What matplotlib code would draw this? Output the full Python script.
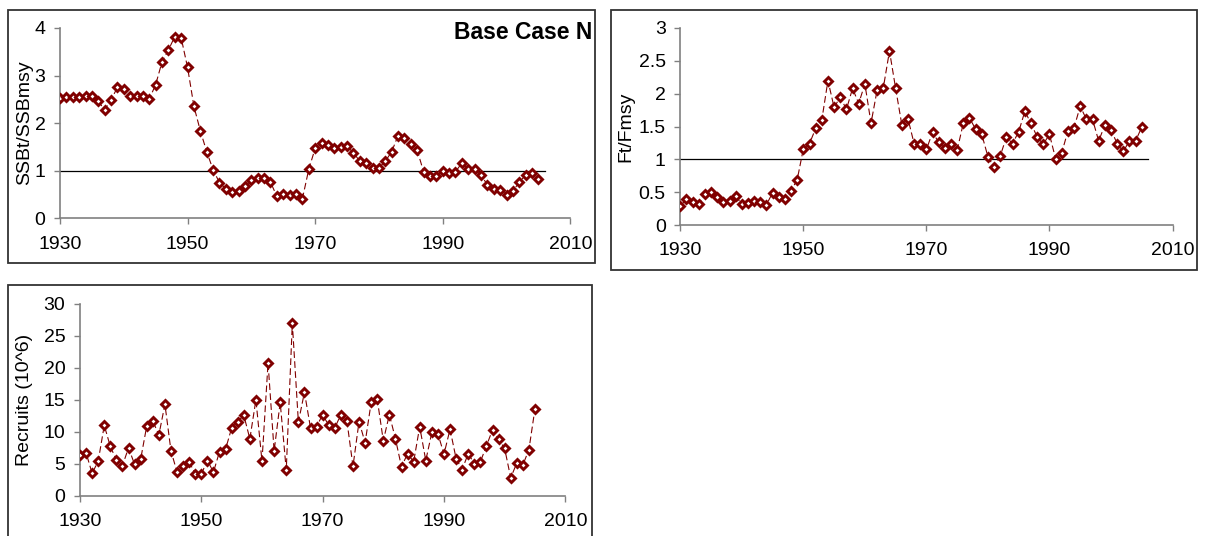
import matplotlib
matplotlib.use("Agg")
import matplotlib.pyplot as plt
from matplotlib.patches import Rectangle
import numpy as np

plt.rcParams['font.family'] = ['Liberation Sans', 'DejaVu Sans']

years = np.arange(1930, 2006)

ssb_ratio = [2.52, 2.55, 2.54, 2.56, 2.58, 2.58, 2.46, 2.28, 2.49, 2.75,
             2.71, 2.58, 2.58, 2.58, 2.51, 2.81, 3.29, 3.54, 3.82, 3.79,
             3.17, 2.35, 1.84, 1.40, 1.02, 0.75, 0.62, 0.55, 0.58, 0.67,
             0.80, 0.85, 0.85, 0.76, 0.46, 0.51, 0.49, 0.51, 0.41, 1.03,
             1.47, 1.59, 1.55, 1.48, 1.49, 1.51, 1.38, 1.20, 1.17, 1.06,
             1.06, 1.20, 1.40, 1.74, 1.68, 1.56, 1.43, 0.98, 0.88, 0.88,
             1.00, 0.95, 0.98, 1.16, 1.04, 1.04, 0.90, 0.71, 0.61, 0.60,
             0.50, 0.57, 0.76, 0.91, 0.96, 0.82]

f_ratio = [0.29, 0.39, 0.35, 0.32, 0.47, 0.51, 0.43, 0.35, 0.37, 0.44,
           0.32, 0.34, 0.37, 0.35, 0.31, 0.49, 0.43, 0.40, 0.52, 0.69,
           1.16, 1.24, 1.47, 1.60, 2.20, 1.79, 1.95, 1.76, 2.08, 1.85,
           2.15, 1.55, 2.06, 2.09, 2.65, 2.08, 1.53, 1.62, 1.24, 1.23,
           1.15, 1.41, 1.26, 1.17, 1.24, 1.14, 1.55, 1.63, 1.46, 1.38,
           1.04, 0.88, 1.05, 1.34, 1.24, 1.42, 1.73, 1.55, 1.34, 1.23,
           1.38, 1.01, 1.10, 1.43, 1.48, 1.81, 1.61, 1.61, 1.28, 1.52,
           1.45, 1.24, 1.12, 1.28, 1.28, 1.49]

recruits = [6.3, 6.7, 3.5, 5.4, 11.0, 7.7, 5.6, 4.7, 7.5, 4.9,
            5.7, 10.9, 11.7, 9.5, 14.3, 7.0, 3.7, 4.6, 5.3, 3.4,
            3.4, 5.5, 3.7, 6.9, 7.3, 10.6, 11.6, 12.6, 8.9, 15.0,
            5.4, 20.8, 7.0, 14.6, 4.0, 27.0, 11.5, 16.2, 10.6, 10.8,
            12.7, 11.0, 10.6, 12.7, 11.7, 4.6, 11.6, 8.3, 14.6, 15.1,
            8.6, 12.7, 8.9, 4.5, 6.6, 5.3, 10.8, 5.5, 9.9, 9.7,
            6.5, 10.4, 5.8, 4.1, 6.6, 5.0, 5.3, 7.8, 10.3, 8.8,
            7.4, 2.8, 5.1, 4.8, 7.2, 13.6]

x_ticks = [1930, 1950, 1970, 1990, 2010]
red = '#800000'
W, H = 1205, 536

fig = plt.figure(figsize=(W / 100, H / 100), dpi=100)


def px_axes(left, right, top, bottom):
    return fig.add_axes([left / W, 1 - bottom / H, (right - left) / W, (bottom - top) / H])


def chart_box(x0, y0, x1, y1):
    fig.add_artist(Rectangle((x0 / W, 1 - y1 / H), (x1 - x0) / W, (y1 - y0) / H,
                             transform=fig.transFigure, fill=False,
                             edgecolor='#333333', linewidth=1.3))


def series_panel(ax, values, ymax, ystep, ylabel, label_x, ref_line=True):
    ax.plot(years, values, color=red, linestyle=(0, (6, 3)), linewidth=0.8,
            marker='D', markersize=4.0, markerfacecolor='white',
            markeredgecolor=red, markeredgewidth=2.1, zorder=3)
    if ref_line:
        ax.plot([1930, 2006], [1, 1], color='black', linewidth=0.9, zorder=2)
    ax.set_xlim(1930, 2010)
    ax.set_ylim(0, ymax)
    ax.set_xticks(x_ticks)
    yt = np.arange(0, ymax + ystep / 2, ystep)
    ax.set_yticks(yt)
    ax.set_yticklabels(['%g' % v for v in yt])
    for s in ['top', 'right']:
        ax.spines[s].set_visible(False)
    for s in ['left', 'bottom']:
        ax.spines[s].set_color('#808080')
        ax.spines[s].set_linewidth(1.2)
    ax.tick_params(direction='out', length=4.5, width=1, color='#808080',
                   labelsize=14)
    ax.tick_params(axis='x', pad=8)
    ax.tick_params(axis='y', pad=6)
    ax.set_ylabel(ylabel, fontsize=14)
    # label's right edge, in figure pixels
    l, b, w, h = ax.get_position().bounds
    ax.yaxis.set_label_coords((label_x / W - l) / w, 0.5)
    ax.patch.set_alpha(0)


ax1 = px_axes(60, 570.3, 28, 218.3)
series_panel(ax1, ssb_ratio, 4, 1, 'SSBt/SSBmsy', 33)
ax1.text(1.043, 1.035, 'Base Case N', transform=ax1.transAxes, ha='right', va='top',
         fontsize=16.5, fontweight='bold')

ax2 = px_axes(680.3, 1172.5, 28, 225)
series_panel(ax2, f_ratio, 3, 0.5, 'Ft/Fmsy', 634)

ax3 = px_axes(80, 565.3, 304, 495.7)
series_panel(ax3, recruits, 30, 5, 'Recruits (10^6)', 33, ref_line=False)

chart_box(8, 10, 595, 263)
chart_box(611, 10, 1197, 270)
chart_box(8, 285, 592, 545)

fig.savefig('out.png', dpi=100)
